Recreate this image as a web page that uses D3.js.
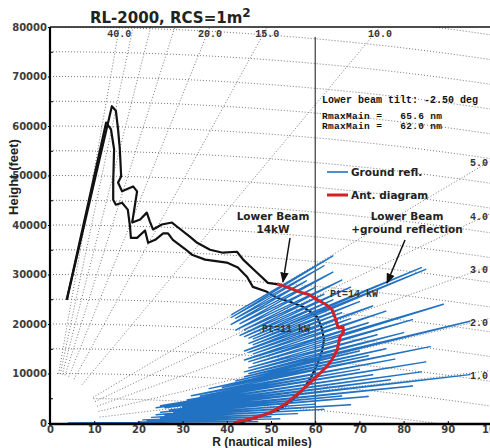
<!DOCTYPE html>
<html>
<head>
<meta charset="utf-8">
<script src="https://cdn.jsdelivr.net/npm/d3@7"></script>
<style>
  body { margin: 0; background: #fff; }
  svg { display: block; }
</style>
</head>
<body>
<div id="chart"></div>
<script>
// ---- data ----
const xTicks = [0, 10, 20, 30, 40, 50, 60, 70, 80, 90, 100];
const yTicks = [0, 10000, 20000, 30000, 40000, 50000, 60000, 70000, 80000];
const yMinorTicks = [5000, 15000, 25000, 35000, 45000, 55000, 65000, 75000];

// elevation angle rays (deg)
const rayAngles = [40, 35, 30, 25, 20, 15, 10, 5, 4, 3, 2, 1];
const topRayLabels = [40, 20, 15, 10];
const sideRayLabels = [5, 4, 3, 2, 1];
// constant height lines (ft)
const heightLines = [5000, 10000, 15000, 20000, 25000, 30000, 35000, 40000, 45000,
                     50000, 55000, 60000, 65000, 70000, 75000, 80000, 85000];

// [range nm, height ft]
const beam14 = [
  [3.8, 24900], [14.0, 64000], [14.9, 63100], [15.4, 59300], [15.8, 55300],
  [16.1, 49800], [15.4, 48600], [16.3, 46800], [18.8, 47800], [19.7, 46800],
  [18.6, 40500], [20.4, 41100], [21.9, 42500], [22.6, 40700], [23.3, 39100],
  [25.3, 40100], [27.6, 40500], [28.7, 39700], [31.7, 37600], [33.3, 36400],
  [36.2, 35000], [39.1, 34400], [42.3, 34600], [43.7, 33000], [46.8, 30400],
  [49.3, 28300], [51.6, 28000]
];
const beam11 = [
  [3.8, 24900], [12.7, 60700], [13.8, 59300], [14.5, 55300], [14.3, 48600],
  [14.3, 45100], [14.9, 44100], [16.3, 44500], [17.6, 43100], [18.1, 39700],
  [18.3, 37400], [19.7, 37400], [21.5, 38900], [22.2, 36400], [23.8, 37000],
  [25.6, 38300], [26.7, 38300], [27.8, 37000], [30.5, 35200], [32.1, 34000],
  [35.1, 33000], [40.0, 32400], [42.5, 31400], [44.6, 29500], [45.9, 27500],
  [49.1, 26500], [51.4, 25300], [54.3, 24500], [57.2, 23500], [60.4, 21500],
  [61.5, 19200], [62.0, 16800], [61.5, 14400], [60.4, 11700], [59.0, 9100],
  [57.2, 6700], [55.0, 4700], [51.6, 2600], [46.5, 1000], [43.0, 0]
];
const antDiagram = [
  [51.4, 28100], [54.1, 27300], [56.4, 26500], [58.7, 25900], [60.5, 24900],
  [62.5, 23900], [63.8, 22900], [64.7, 20800], [65.2, 19200], [66.3, 19400],
  [66.4, 18400], [65.6, 17400], [65.0, 14800], [63.8, 12800], [62.5, 11300],
  [60.9, 9900], [59.3, 8500], [57.1, 6700], [53.5, 4000], [49.6, 2000],
  [46.0, 1000], [41.5, 0]
];

// ground reflection lobes: peak elevation (deg), peak range (nm), following null range (nm)
const lobeStart = 4;
const lobeAngle = [0.06, 0.15, 0.24, 0.32, 0.42, 0.51, 0.60, 0.70, 0.78, 0.86,
                   0.97, 1.07, 1.16, 1.26, 1.37, 1.46, 1.56, 1.69, 1.78, 1.86,
                   1.96, 2.04, 2.15, 2.27, 2.40, 2.54, 2.65, 2.80, 2.92, 3.05,
                   3.18, 3.30, 3.44, 3.52, 3.66, 3.80, 3.95, 4.12, 4.30, 4.48,
                   4.66, 4.82, 4.96];
const lobePeak = [47, 52, 50, 56, 62, 68, 60, 72, 66, 82,
                  95, 77, 84, 73, 85, 70, 78, 86, 72, 76,
                  70, 95, 80, 74, 82, 89, 72, 76, 68, 73,
                  66, 70, 85, 84, 64, 68, 62, 66, 60, 64,
                  58, 62, 64];
const lobeValley = [20, 22, 21, 25, 23, 26, 24, 28, 25, 27,
                    30, 26, 24, 25, 31, 34, 32, 39, 36, 42,
                    44, 45, 44, 45, 46, 45, 44, 46, 45, 44,
                    46, 45, 46, 45, 44, 43, 44, 42, 43, 41,
                    42, 41, 41];

// ---- chart ----
const FT_PER_NM = 6076;
const EARTH_R = 4 / 3 * 3440;   // nm, 4/3 earth
const W = 490, H = 448;

const x = d3.scaleLinear().domain([0, 100]).range([50, 492]);
const y = d3.scaleLinear().domain([0, 80000]).range([423, 27]);

const svg = d3.select("#chart").append("svg")
    .attr("width", W)
    .attr("height", H)
    .style("font-family", "'DejaVu Sans', sans-serif");

svg.append("clipPath").attr("id", "plot")
    .append("rect")
    .attr("x", x(0)).attr("y", y(80000))
    .attr("width", x(100) - x(0)).attr("height", y(0) - y(80000));

const line = d3.line().x(d => x(d[0])).y(d => y(d[1]));

// blank zone round the origin
const blankR = 11.3, blankH = 10100;

const grid = svg.append("g")
    .attr("clip-path", "url(#plot)")
    .attr("fill", "none")
    .attr("stroke", "#777")
    .attr("stroke-width", 1)
    .attr("stroke-dasharray", "1,2");

// height lines, bent by earth curvature
heightLines.forEach(hl => {
    const r0 = hl < blankH ? blankR * Math.sqrt(1 - (hl / blankH) ** 2) : 0;
    const pts = [];
    for (let r = r0; r <= 101; r += 1) {
        pts.push([r, hl - r * r * FT_PER_NM / (2 * EARTH_R)]);
    }
    grid.append("path").attr("d", line(pts));
});

// elevation rays
const rayH = (a, r) => r * Math.tan(a * Math.PI / 180) * FT_PER_NM;
rayAngles.forEach(a => {
    const t = Math.tan(a * Math.PI / 180) * FT_PER_NM;
    const r0 = 1 / Math.sqrt((1 / blankR) ** 2 + (t / blankH) ** 2);
    const r1 = Math.min(101, 82000 / t);
    grid.append("path").attr("d", line([[r0, r0 * t], [r1, r1 * t]]));
});

const plot = svg.append("g").attr("clip-path", "url(#plot)");

// vertical marker at 60 nm
plot.append("line")
    .attr("x1", x(60)).attr("x2", x(60))
    .attr("y1", y(78000)).attr("y2", y(0))
    .attr("stroke", "#111").attr("stroke-width", 1);

// black coverage curves
[beam14, beam11].forEach(c => {
    plot.append("path")
        .datum(c)
        .attr("fill", "none")
        .attr("stroke", "#111")
        .attr("stroke-width", 2.2)
        .attr("stroke-linejoin", "round")
        .attr("d", line);
});

// ground reflection lobes
const lobePts = [[0, lobeStart]];
lobeAngle.forEach((a, i) => {
    lobePts.push([a, lobePeak[i]]);
    const next = i < lobeAngle.length - 1 ? lobeAngle[i + 1] : a + 0.1;
    lobePts.push([(a + next) / 2, lobeValley[i]]);
});
plot.append("path")
    .datum(lobePts.map(([a, r]) => [r, rayH(a, r)]))
    .attr("fill", "none")
    .attr("stroke", "#2272c3")
    .attr("stroke-width", 1.4)
    .attr("stroke-linejoin", "round")
    .attr("d", line);

// antenna diagram
plot.append("path")
    .datum(antDiagram)
    .attr("fill", "none")
    .attr("stroke", "#d42027")
    .attr("stroke-width", 3)
    .attr("stroke-linejoin", "round")
    .attr("d", line);

// ---- axes ----
const yAxis = svg.append("g")
    .attr("transform", `translate(${x(0)},0)`)
    .call(d3.axisLeft(y).tickValues(yTicks).tickSize(2).tickPadding(1).tickFormat(d3.format("d")));
yAxis.select(".domain").remove();
yAxis.selectAll("text")
    .attr("font-size", 10).attr("font-weight", "bold")
    .attr("fill", "#3c3c3c").attr("font-family", "'DejaVu Sans', sans-serif");

const yMinor = svg.append("g")
    .attr("transform", `translate(${x(0)},0)`)
    .call(d3.axisRight(y).tickValues(yMinorTicks).tickSize(3).tickFormat(""));
yMinor.select(".domain").remove();

const xAxis = svg.append("g")
    .attr("transform", `translate(0,${y(0) + 1})`)
    .call(d3.axisBottom(x).tickValues(xTicks).tickSize(-3).tickPadding(2));
xAxis.select(".domain").remove();
xAxis.selectAll("text")
    .attr("font-size", 10).attr("font-weight", "bold")
    .attr("fill", "#3c3c3c").attr("font-family", "'DejaVu Sans', sans-serif");

// frame
svg.append("line").attr("x1", x(0)).attr("x2", x(0)).attr("y1", y(80000)).attr("y2", y(0) + 2)
    .attr("stroke", "#000").attr("stroke-width", 2.2);
svg.append("line").attr("x1", x(0)).attr("x2", W).attr("y1", y(0) + 1).attr("y2", y(0) + 1)
    .attr("stroke", "#000").attr("stroke-width", 2.4);
svg.append("line").attr("x1", x(0)).attr("x2", W).attr("y1", y(80000)).attr("y2", y(80000))
    .attr("stroke", "#111").attr("stroke-width", 1.5);

// ray labels
const mono = "'Liberation Mono', 'DejaVu Sans Mono', monospace";
topRayLabels.forEach(a => {
    const r = 80000 / (Math.tan(a * Math.PI / 180) * FT_PER_NM);
    svg.append("text")
        .attr("x", x(r)).attr("y", 37)
        .attr("text-anchor", "middle")
        .attr("font-family", mono).attr("font-size", 10).attr("font-weight", "bold")
        .attr("fill", "#333")
        .text(a.toFixed(1));
});
sideRayLabels.forEach(a => {
    svg.append("text")
        .attr("x", 479).attr("y", y(rayH(a, 101)) + 9)
        .attr("text-anchor", "middle")
        .attr("font-family", mono).attr("font-size", 10).attr("font-weight", "bold")
        .attr("fill", "#333")
        .text(a.toFixed(1));
});

// ---- texts ----
const title = svg.append("text")
    .attr("x", 90).attr("y", 23)
    .attr("font-size", 15).attr("font-weight", "bold").attr("fill", "#222");
title.append("tspan").text("RL-2000, RCS=1m");
title.append("tspan").attr("dy", -6).attr("font-size", 12).text("2");

svg.append("text")
    .attr("transform", "translate(18,177) rotate(-90)")
    .attr("text-anchor", "middle")
    .attr("font-family", "'Liberation Sans', Arial, sans-serif")
    .attr("font-size", 13).attr("font-weight", "bold").attr("fill", "#222")
    .text("Height (feet)");

svg.append("text")
    .attr("x", 262).attr("y", 446)
    .attr("text-anchor", "middle")
    .attr("font-family", "'Liberation Sans', Arial, sans-serif")
    .attr("font-size", 12).attr("font-weight", "bold").attr("fill", "#222")
    .text("R (nautical miles)");

// info block
const info = [
    { t: "Lower beam tilt: -2.50 deg", y: 103 },
    { t: "RmaxMain =   65.6 nm", y: 119 },
    { t: "RmaxMain =   62.0 nm", y: 129 }
];
info.forEach(d => {
    svg.append("text")
        .attr("x", 322).attr("y", d.y)
        .attr("font-family", mono).attr("font-size", d.y > 110 ? 9.5 : 10).attr("font-weight", "bold")
        .attr("fill", "#111")
        .attr("textLength", d.y > 110 ? 120 : null)
        .attr("xml:space", "preserve")
        .text(d.t);
});

// legend
const legend = [
    { label: "Ground refl.", color: "#2272c3", w: 1.6, y: 172 },
    { label: "Ant. diagram", color: "#d42027", w: 3, y: 195 }
];
legend.forEach(l => {
    svg.append("line")
        .attr("x1", 327).attr("x2", 348).attr("y1", l.y).attr("y2", l.y)
        .attr("stroke", l.color).attr("stroke-width", l.w);
    svg.append("text")
        .attr("x", 351).attr("y", l.y + 4)
        .attr("font-size", 10.5).attr("font-weight", "bold").attr("fill", "#222")
        .text(l.label);
});

// annotations with arrows
svg.append("defs").append("marker")
    .attr("id", "arrow")
    .attr("viewBox", "0 0 10 10")
    .attr("refX", 9).attr("refY", 5)
    .attr("markerWidth", 7).attr("markerHeight", 7)
    .attr("orient", "auto")
    .append("path").attr("d", "M0,1 L10,5 L0,9 z").attr("fill", "#111");

const notes = [
    { lines: ["Lower Beam", "14kW"], cx: 273, y0: 220, from: [290, 238], to: [283, 282] },
    { lines: ["Lower Beam", "+ground reflection"], cx: 407, y0: 220, from: [405, 240], to: [387, 283] }
];
notes.forEach(n => {
    n.lines.forEach((t, i) => {
        svg.append("text")
            .attr("x", n.cx).attr("y", n.y0 + i * 13)
            .attr("text-anchor", "middle")
            .attr("font-size", 10.5).attr("font-weight", "bold").attr("fill", "#222")
            .text(t);
    });
    svg.append("line")
        .attr("x1", n.from[0]).attr("y1", n.from[1])
        .attr("x2", n.to[0]).attr("y2", n.to[1])
        .attr("stroke", "#111").attr("stroke-width", 1.5)
        .attr("marker-end", "url(#arrow)");
});

svg.append("text").attr("x", 330).attr("y", 297)
    .attr("font-family", mono).attr("font-size", 10).attr("font-weight", "bold")
    .attr("fill", "#333").attr("xml:space", "preserve").text("Pt=14 kW");
svg.append("text").attr("x", 262).attr("y", 332)
    .attr("font-family", mono).attr("font-size", 10).attr("font-weight", "bold")
    .attr("fill", "#333").attr("xml:space", "preserve").text("Pt=11 kW");
</script>
</body>
</html>
